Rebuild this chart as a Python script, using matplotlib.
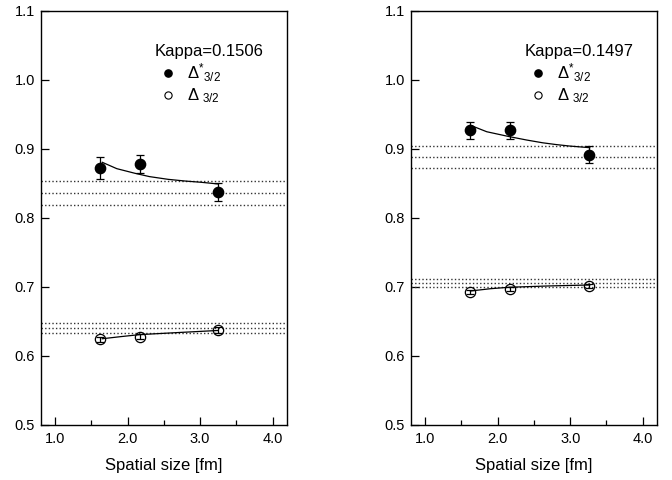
#!/usr/bin/env python3
# two panels: delta masses vs spatial lattice size for two kappa values,
# filled = excited (Delta*), open = ground state, dotted = infinite volume band

import matplotlib
matplotlib.use("Agg")
import matplotlib.pyplot as plt
from matplotlib.lines import Line2D
from matplotlib.ticker import MultipleLocator, FormatStrFormatter

plt.rcParams["font.family"] = ["Liberation Sans", "DejaVu Sans"]
plt.rcParams["mathtext.fontset"] = "custom"
plt.rcParams["mathtext.rm"] = "Liberation Sans"
plt.rcParams["mathtext.it"] = "Liberation Sans"
plt.rcParams["mathtext.default"] = "regular"

KAPPAS = ["0.1506", "0.1497"]
SIZES = [[1.62, 2.17, 3.25], [1.625, 2.17, 3.26]]

# excited state (filled)
EXC_Y = [[0.872, 0.878, 0.837], [0.927, 0.927, 0.892]]
EXC_ERR = [[0.016, 0.013, 0.013], [0.012, 0.012, 0.012]]
# ground state (open)
GND_Y = [[0.624, 0.628, 0.638], [0.693, 0.697, 0.702]]
GND_ERR = [[0.004, 0.004, 0.004], [0.003, 0.003, 0.003]]

# infinite volume value +/- error, dotted lines
EXC_BAND = [[0.854, 0.836, 0.819], [0.905, 0.889, 0.873]]
GND_BAND = [[0.648, 0.641, 0.634], [0.711, 0.7058, 0.7005]]

# fit curves
EXC_FIT_X = [[1.65, 1.85, 2.1, 2.3, 2.56, 2.8, 3.02, 3.25],
             [1.65, 1.85, 2.157, 2.4, 2.62, 2.8, 2.99, 3.27]]
EXC_FIT_Y = [[0.8807, 0.8715, 0.8648, 0.8600, 0.8560, 0.8535, 0.8517, 0.8493],
             [0.9333, 0.9250, 0.9180, 0.9130, 0.9090, 0.9065, 0.9043, 0.9019]]
GND_FIT_X = [[1.65, 1.9, 2.17, 2.7, 3.25], [1.625, 1.9, 2.157, 2.7, 3.27]]
GND_FIT_Y = [[0.625, 0.628, 0.631, 0.634, 0.637],
             [0.6942, 0.6975, 0.6996, 0.7015, 0.7029]]

XLABEL = "Spatial size [fm]"
LABEL_EXC = r"$\Delta^{*}{}_{3/2}$"
LABEL_GND = r"$\Delta\;{}_{3/2}$"

fig = plt.figure(figsize=(6.72, 4.8), dpi=100)
positions = [[0.0606, 0.1146, 0.3665, 0.8625], [0.611, 0.1146, 0.367, 0.8625]]

for i, pos in enumerate(positions):
    ax = fig.add_axes(pos)
    x = SIZES[i]

    for v in EXC_BAND[i] + GND_BAND[i]:
        ax.axhline(v, color="#333333", lw=1.0, ls=(0, (1, 1.6)))

    ax.plot(EXC_FIT_X[i], EXC_FIT_Y[i], color="black", lw=0.9)
    ax.plot(GND_FIT_X[i], GND_FIT_Y[i], color="black", lw=0.9)

    ax.errorbar(x, EXC_Y[i], yerr=EXC_ERR[i], fmt="o", color="black",
                ms=7.4, elinewidth=0.9, capsize=3, capthick=0.9, zorder=3)
    ax.errorbar(x, GND_Y[i], yerr=GND_ERR[i], fmt="o", color="black",
                mfc="none", mec="black", mew=0.9, ms=7.4,
                elinewidth=0.9, capsize=3, capthick=0.9, zorder=3)

    ax.set_xlim(0.8, 4.2)
    ax.set_ylim(0.5, 1.1)
    ax.xaxis.set_major_locator(MultipleLocator(1.0))
    ax.xaxis.set_minor_locator(MultipleLocator(0.5))
    ax.yaxis.set_major_locator(MultipleLocator(0.1))
    ax.xaxis.set_major_formatter(FormatStrFormatter("%.1f"))
    ax.yaxis.set_major_formatter(FormatStrFormatter("%.1f"))
    ax.tick_params(axis="both", which="major", direction="in", length=6,
                   width=0.9, labelsize=10.5)
    ax.tick_params(axis="x", which="major", pad=5)
    ax.tick_params(axis="y", which="major", pad=4)
    ax.tick_params(axis="x", which="minor", direction="in", length=3.5,
                   width=0.9)
    for sp in ax.spines.values():
        sp.set_linewidth(1.0)
    ax.set_xlabel(XLABEL, fontsize=12, labelpad=9)

    handles = [Line2D([], [], marker="o", ls="none", color="black", ms=5.2),
               Line2D([], [], marker="o", ls="none", mfc="white", mec="black",
                      mew=0.8, ms=5.2)]
    ax.legend(handles, [LABEL_EXC, LABEL_GND],
              title="Kappa=" + KAPPAS[i], title_fontsize=12,
              fontsize=12, frameon=False, loc="upper left",
              bbox_to_anchor=(0.464, 0.92), borderpad=0,
              borderaxespad=0, handlelength=1.6, handletextpad=0.3,
              labelspacing=0.15, alignment="left")

fig.savefig("out.png", dpi=100)
